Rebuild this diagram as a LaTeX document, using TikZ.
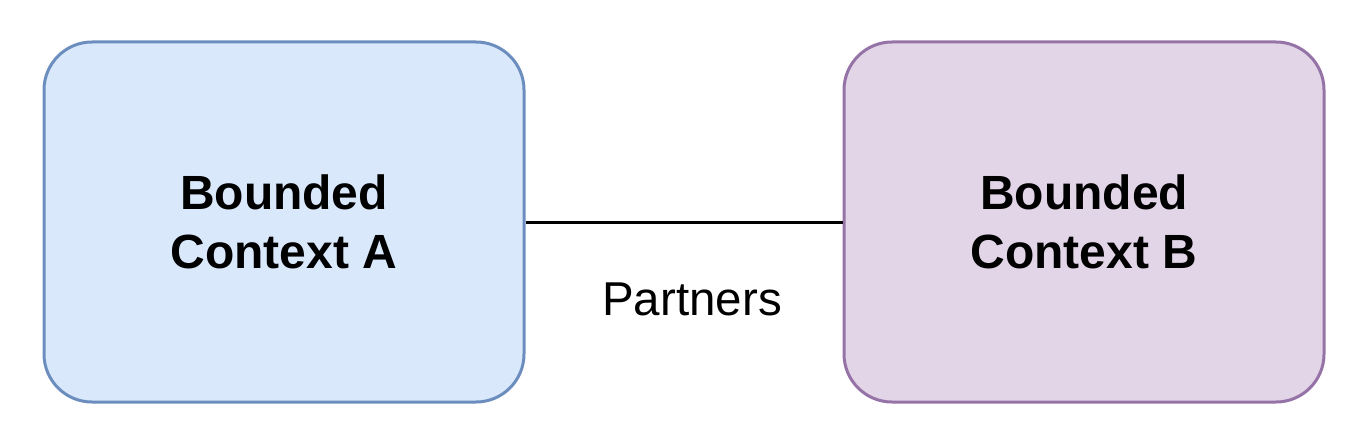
\documentclass[tikz,border=0pt]{standalone}
\usepackage{fontspec}
\setmainfont{Liberation Sans}
\definecolor{blueFill}{HTML}{DAE8FC}
\definecolor{blueLine}{HTML}{6C8EBF}
\definecolor{purpleFill}{HTML}{E1D5E7}
\definecolor{purpleLine}{HTML}{9673A6}
\tikzset{
  ctxbox/.style={rounded corners=48pt, line width=3pt, minimum width=480pt, minimum height=360pt, inner sep=0pt, align=center,
    font=\fontsize{48pt}{59pt}\selectfont\bfseries},
  conn/.style={line width=3pt, draw=black},
  lbl/.style={font=\fontsize{47.5pt}{56pt}\selectfont}
}
\begin{document}
\begin{tikzpicture}[x=1pt,y=-1pt]
\useasboundingbox (0,0) rectangle (1364,444);
\node[ctxbox, draw=blueLine, fill=blueFill] (a) at (284,222) {Bounded\\Context A};
\node[ctxbox, draw=purpleLine, fill=purpleFill] (b) at (1084,222) {Bounded\\Context B};
\draw[conn] (a.east) -- (b.west);
\node[lbl] (p) at (692,299) {Partners};
\end{tikzpicture}
\end{document}
